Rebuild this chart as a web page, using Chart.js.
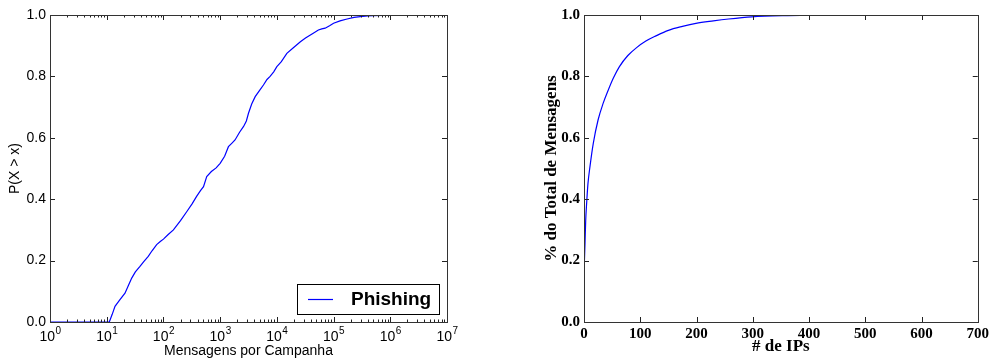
<!DOCTYPE html>
<html>
<head>
<meta charset="utf-8">
<script src="https://cdn.jsdelivr.net/npm/chart.js"></script>
<style>
  html, body { margin: 0; padding: 0; background: #fff; }
  body { width: 992px; height: 362px; position: relative; overflow: hidden; }
  canvas { position: absolute; top: 0; }
  #cdf { left: 0; }
  #ips { left: 530px; }
</style>
</head>
<body>
<canvas id="cdf" width="460" height="362"></canvas>
<canvas id="ips" width="462" height="362"></canvas>
<script>
// left: P(X > x) vs messages per campaign (log x)
const campaignMsgs = [1, 11.1, 12.5, 14, 17, 21, 24, 27.6, 32, 38.6, 45, 54, 63, 76, 88, 100, 120, 150, 200, 259, 320, 387, 450, 509, 580, 700, 850,
  1000, 1200, 1400, 1600, 1830, 2200, 2590, 2900, 3160, 3600, 4150, 5000, 5800, 6700, 7600, 8800, 10000, 12000, 15000, 20000, 26000, 32000,
  39000, 46000, 54000, 62000, 71000, 85000, 100000, 130000, 173000, 230000, 295000, 400000, 500000, 750000, 1070000];
const probGreater = [0, 0, 0.025, 0.051, 0.072, 0.094, 0.118, 0.143, 0.163, 0.181, 0.197, 0.214, 0.232, 0.252, 0.262, 0.270, 0.284, 0.300, 0.330, 0.360, 0.385, 0.410, 0.428, 0.441, 0.474, 0.490, 0.502,
  0.517, 0.540, 0.571, 0.582, 0.593, 0.618, 0.637, 0.655, 0.680, 0.710, 0.734, 0.755, 0.772, 0.790, 0.800, 0.815, 0.832, 0.848, 0.875, 0.895, 0.913, 0.925,
  0.935, 0.943, 0.951, 0.955, 0.957, 0.965, 0.973, 0.981, 0.987, 0.992, 0.995, 0.997, 0.998, 0.999, 1.0];
const logExponents = [0, 1, 2, 3, 4, 5, 6, 7];

// right: share of total messages vs number of IPs
const ipCount = [0, 0.8, 1.8, 3, 4.7, 7, 10.6, 16.5, 25, 34, 43, 52, 63, 78, 93, 110, 128, 150, 175, 199, 230, 257, 298, 357, 400, 439];
const msgShare = [0.13, 0.2, 0.256, 0.33, 0.387, 0.45, 0.506, 0.582, 0.658, 0.712, 0.755, 0.794, 0.832, 0.868, 0.893, 0.915, 0.932, 0.950, 0.963, 0.973, 0.981, 0.987, 0.994, 0.998, 0.999, 1.0];

const pairs = (xs, ys) => xs.map((x, i) => ({ x: x, y: ys[i] }));

const sans = '"Liberation Sans", Arial, sans-serif';
const serif = '"Liberation Serif", "Times New Roman", serif';

// matplotlib-ish frame with inward ticks on all four sides
const frameTicks = {
  id: 'frameTicks',
  afterDraw(chart) {
    const ctx = chart.ctx;
    const a = chart.chartArea;
    const sx = chart.scales.x, sy = chart.scales.y;
    ctx.save();
    ctx.strokeStyle = '#222';
    ctx.lineWidth = 1;
    sx.ticks.forEach(t => {
      const px = Math.round(sx.getPixelForValue(t.value)) + 0.5;
      const len = t.major === false ? 2.5 : 5;
      ctx.beginPath();
      ctx.moveTo(px, a.bottom); ctx.lineTo(px, a.bottom - len);
      ctx.moveTo(px, a.top); ctx.lineTo(px, a.top + len);
      ctx.stroke();
    });
    sy.ticks.forEach(t => {
      const py = Math.round(sy.getPixelForValue(t.value)) + 0.5;
      ctx.beginPath();
      ctx.moveTo(a.left, py); ctx.lineTo(a.left + 5, py);
      ctx.moveTo(a.right, py); ctx.lineTo(a.right - 5, py);
      ctx.stroke();
    });
    ctx.strokeStyle = '#333';
    ctx.strokeRect(Math.round(a.left) + 0.5, Math.round(a.top) + 0.5, Math.round(a.right - a.left), Math.round(a.bottom - a.top));
    ctx.restore();
  }
};

// 10^n labels with a raised exponent under the log axis
const powerLabels = {
  id: 'powerLabels',
  afterDraw(chart) {
    const ctx = chart.ctx;
    const sx = chart.scales.x;
    const y = chart.chartArea.bottom + 5;
    ctx.save();
    ctx.fillStyle = '#000';
    ctx.textBaseline = 'top';
    logExponents.forEach(e => {
      const px = sx.getPixelForValue(Math.pow(10, e));
      ctx.font = '14px ' + sans;
      const wb = ctx.measureText('10').width;
      ctx.font = '10px ' + sans;
      const we = ctx.measureText(String(e)).width;
      const x0 = px - (wb + we) / 2;
      ctx.font = '14px ' + sans;
      ctx.fillText('10', x0, y + 3);
      ctx.font = '10px ' + sans;
      ctx.fillText(String(e), x0 + wb + 0.5, y - 1);
    });
    ctx.restore();
  }
};

// legend box in the lower right corner of the left plot
const legendBox = {
  id: 'legendBox',
  afterDraw(chart) {
    const ctx = chart.ctx;
    const a = chart.chartArea;
    const x0 = a.right - 150, y0 = a.bottom - 38, w = 142, h = 30;
    ctx.save();
    ctx.fillStyle = '#fff';
    ctx.fillRect(x0, y0, w, h);
    ctx.strokeStyle = '#000';
    ctx.lineWidth = 1;
    ctx.strokeRect(x0 + 0.5, y0 + 0.5, w, h);
    ctx.strokeStyle = chart.data.datasets[0].borderColor;
    ctx.lineWidth = 1.2;
    ctx.beginPath();
    ctx.moveTo(x0 + 11, y0 + 15.5); ctx.lineTo(x0 + 36, y0 + 15.5);
    ctx.stroke();
    ctx.fillStyle = '#000';
    ctx.font = 'bold 19px ' + sans;
    ctx.textBaseline = 'middle';
    ctx.fillText(chart.data.datasets[0].label, x0 + 54, y0 + 16);
    ctx.restore();
  }
};

new Chart(document.getElementById('cdf'), {
  type: 'line',
  data: {
    datasets: [{
      label: 'Phishing',
      data: pairs(campaignMsgs, probGreater),
      borderColor: '#0000ff',
      borderWidth: 1.2,
      pointRadius: 0,
      tension: 0,
      fill: false
    }]
  },
  options: {
    responsive: false,
    animation: false,
    devicePixelRatio: 1,
    layout: { padding: { top: 15, right: 13, left: 0, bottom: 0 } },
    plugins: { legend: { display: false }, tooltip: { enabled: false } },
    scales: {
      x: {
        type: 'logarithmic',
        min: 1, max: 1e7,
        afterFit(s) { s.height = 40; },
        afterBuildTicks(s) {
          const t = [];
          for (let e = 0; e < 7; e++) {
            for (let m = 1; m < 10; m++) t.push({ value: m * Math.pow(10, e), major: m === 1 });
          }
          t.push({ value: 1e7, major: true });
          s.ticks = t;
        },
        grid: { display: false, drawTicks: false },
        border: { display: false },
        ticks: { display: false },
        title: {
          display: true, text: 'Mensagens por Campanha', color: '#000',
          font: { family: sans, size: 14, lineHeight: 1.2 },
          padding: { top: 0, bottom: 2 }
        }
      },
      y: {
        min: 0, max: 1,
        afterFit(s) { s.width = 50; },
        grid: { display: false, drawTicks: false },
        border: { display: false },
        ticks: {
          stepSize: 0.2, padding: 4, color: '#000',
          font: { family: sans, size: 14 },
          callback: v => v.toFixed(1)
        },
        title: {
          display: true, text: 'P(X > x)', color: '#000',
          font: { family: sans, size: 14, lineHeight: 1.2 },
          padding: { top: 6.6, bottom: 0 }
        }
      }
    }
  },
  plugins: [frameTicks, powerLabels, legendBox]
});

new Chart(document.getElementById('ips'), {
  type: 'line',
  data: {
    datasets: [{
      label: 'IPs',
      data: pairs(ipCount, msgShare),
      borderColor: '#0000ff',
      borderWidth: 1.2,
      pointRadius: 0,
      cubicInterpolationMode: 'monotone',
      fill: false
    }]
  },
  options: {
    responsive: false,
    animation: false,
    devicePixelRatio: 1,
    layout: { padding: { top: 15, right: 11, left: 0, bottom: 0 } },
    plugins: { legend: { display: false }, tooltip: { enabled: false } },
    scales: {
      x: {
        type: 'linear',
        min: 0, max: 700,
        afterFit(s) { s.height = 40; },
        grid: { display: false, drawTicks: false },
        border: { display: false },
        ticks: {
          stepSize: 100, padding: 3, color: '#000', maxRotation: 0,
          font: { family: serif, size: 15, weight: 'bold' }
        },
        title: {
          display: true, text: '# de IPs', color: '#000',
          font: { family: serif, size: 17, weight: 'bold', lineHeight: 1.2 },
          padding: { top: 0, bottom: 4.8 }
        }
      },
      y: {
        min: 0, max: 1,
        afterFit(s) { s.width = 54; },
        grid: { display: false, drawTicks: false },
        border: { display: false },
        ticks: {
          stepSize: 0.2, padding: 4, color: '#000',
          font: { family: serif, size: 15, weight: 'bold' },
          callback: v => v.toFixed(1)
        },
        title: {
          display: true, text: '% do Total de Mensagens', color: '#000',
          font: { family: serif, size: 17, weight: 'bold', lineHeight: 1.2 },
          padding: { top: 11.8, bottom: 0 }
        }
      }
    }
  },
  plugins: [frameTicks]
});
</script>
</body>
</html>
